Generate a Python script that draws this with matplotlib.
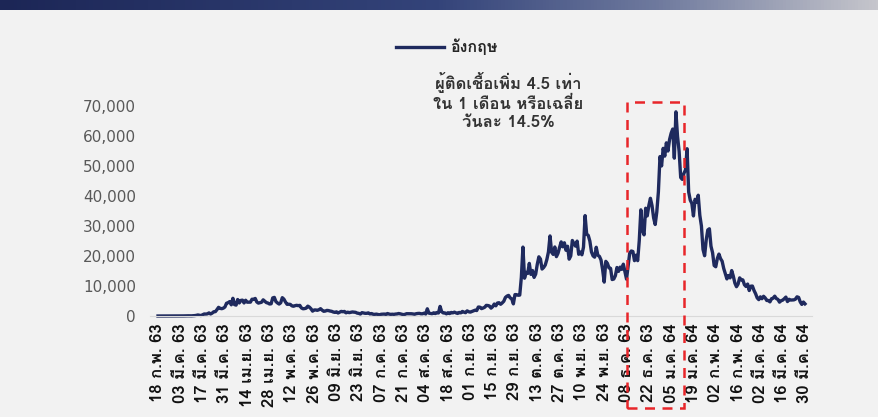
import matplotlib
matplotlib.use('Agg')
import matplotlib.pyplot as plt
import numpy as np
from matplotlib import font_manager
from matplotlib.colors import LinearSegmentedColormap
from matplotlib.patches import Rectangle

# daily new cases, UK, 18 Feb 2020 - 30 Mar 2021
feb20 = [0, 0, 0, 0, 0, 0, 0, 0, 2, 3, 2, 5]
mar20 = [12, 4, 11, 34, 30, 48, 43, 67, 48, 52, 83, 134, 208, 342, 251, 152, 407, 676, 643, 714,
         1035, 665, 967, 1427, 1452, 2129, 2885, 2546, 2433, 2619, 3009]
apr20 = [4244, 4450, 4805, 3735, 5903, 3802, 3634, 5491, 4344, 5195, 5288, 4342, 5252, 4603, 4617,
         4618, 5599, 5525, 5850, 4676, 4301, 4451, 4583, 5386, 4913, 4463, 4310, 3996, 4076, 6032]
may20 = [6201, 4806, 4339, 3985, 4406, 6111, 5614, 4649, 3896, 3923, 3877, 3403, 3242, 3446, 3560,
         3450, 3534, 2684, 2412, 2472, 2615, 3287, 2959, 2409, 1625, 2004, 2013, 1887, 2095, 2445, 1936]
jun20 = [1570, 1653, 1871, 1805, 1650, 1557, 1326, 1205, 1387, 1003, 1266, 1541, 1425, 1514, 1056,
         1279, 1115, 1218, 1346, 1295, 1221, 958, 874, 653, 1118, 1006, 890, 901, 1041, 689]
jul20 = [829, 576, 544, 624, 516, 352, 581, 630, 642, 512, 820, 650, 530, 598, 538, 642, 687, 827,
         726, 580, 445, 560, 769, 767, 743, 749, 685, 581, 763, 846, 880]
aug20 = [744, 742, 938, 670, 2400, 950, 871, 758, 1062, 816, 1148, 1009, 3200, 1441, 1012, 1040,
         713, 1089, 812, 1182, 1033, 1288, 1041, 853, 1184, 1048, 1522, 1276, 1108, 1715, 1406]
sep20 = [1295, 1508, 1735, 1940, 1813, 2988, 2948, 2460, 2659, 2919, 3539, 3497, 3330, 2621, 3105,
         3991, 3395, 4322, 4422, 3899, 4368, 4926, 6178, 6634, 6874, 6042, 5693, 4044, 7143, 7108]
oct20 = [6914, 6968, 12872, 22961, 12594, 14542, 14162, 17540, 13864, 15166, 12872, 13972, 17234,
         19724, 18980, 15650, 16171, 16982, 18804, 21331, 26688, 21242, 20530, 23012, 19790, 20890,
         22885, 24701, 23065, 24405, 21915]
nov20 = [23254, 18950, 20018, 25177, 24141, 23287, 24957, 20572, 21350, 20412, 22950, 33470, 27301,
         26860, 24962, 21363, 20051, 19609, 22915, 20252, 19875, 18662, 15450, 11299, 18213, 17555,
         16022, 15871, 12155, 12330]
dec20 = [13430, 16170, 14879, 16298, 15539, 17272, 14718, 12282, 16578, 20964, 21672, 21502, 18447,
         20263, 18450, 25161, 35383, 28507, 27052, 35928, 33364, 36804, 39237, 36804, 32725, 30501,
         34693, 41385, 53135, 50023, 55892]
jan21 = [53285, 57725, 54990, 58784, 60916, 62322, 52618, 68053, 59937, 54940, 46165, 45533, 47525,
         48682, 55761, 41346, 38598, 37535, 33355, 38905, 37892, 40261, 33552, 30004, 22195, 20089,
         25308, 28680, 29079, 23275, 21088]
feb21 = [16840, 16411, 19202, 20634, 19114, 18262, 15845, 14104, 12364, 13494, 12718, 15144, 13308,
         10972, 9765, 10625, 12718, 12057, 12027, 10406, 9834, 10641, 8489, 9938, 9985, 8523, 7434, 6035]
mar21 = [5455, 6385, 5766, 6573, 6040, 5177, 5177, 4712, 5766, 5926, 6609, 5824, 5534, 4618, 5089,
         5294, 5758, 6303, 4802, 5587, 5312, 5342, 5379, 5605, 6397, 6187, 4715, 3862, 4654, 4052]

cases = feb20 + mar20 + apr20 + may20 + jun20 + jul20 + aug20 + sep20 + oct20 + nov20 + dec20 + jan21 + feb21 + mar21
days = np.arange(len(cases))

tick_labels = ['18 ก.พ. 63', '03 มี.ค. 63', '17 มี.ค. 63', '31 มี.ค. 63', '14 เม.ย. 63', '28 เม.ย. 63',
               '12 พ.ค. 63', '26 พ.ค. 63', '09 มิ.ย. 63', '23 มิ.ย. 63', '07 ก.ค. 63', '21 ก.ค. 63',
               '04 ส.ค. 63', '18 ส.ค. 63', '01 ก.ย. 63', '15 ก.ย. 63', '29 ก.ย. 63', '13 ต.ค. 63',
               '27 ต.ค. 63', '10 พ.ย. 63', '24 พ.ย. 63', '08 ธ.ค. 63', '22 ธ.ค. 63', '05 ม.ค. 64',
               '19 ม.ค. 64', '02 ก.พ. 64', '16 ก.พ. 64', '02 มี.ค. 64', '16 มี.ค. 64', '30 มี.ค. 64']
yticks = [0, 10000, 20000, 30000, 40000, 50000, 60000, 70000]

names = set(f.name for f in font_manager.fontManager.ttflist)
thai = 'DejaVu Sans'
for c in ['Tahoma', 'Loma', 'IBM Plex Sans Thai Looped', 'Noto Sans Thai Looped', 'Noto Sans Thai']:
    if c in names:
        thai = c
        break
fam = [thai, 'DejaVu Sans']

W, H = 879, 417
fig = plt.figure(figsize=(W / 100, H / 100), dpi=100, facecolor='#f2f2f2')

# top banner
band = fig.add_axes([0, 1 - 10 / H, 1, 10 / H])
cmap = LinearSegmentedColormap.from_list('band', [(0, '#1c2656'), (0.5, '#34447a'), (0.75, '#6f7a9e'), (1, '#c6c6cc')])
band.imshow(np.linspace(0, 1, 256)[None, :], aspect='auto', cmap=cmap, extent=[0, 1, 0, 1])
band.axis('off')

ppd = 647 / 406
ax = fig.add_axes([150 / W, 1 - 316 / H, 662 / W, 210 / H])
ax.set_facecolor('#f2f2f2')
ax.plot(days, cases, color='#1f2a5e', lw=2.4, clip_on=False, label='อังกฤษ', solid_joinstyle='round')
ax.set_xlim(-8 / ppd, 406 + 7 / ppd)
ax.set_ylim(0, 70000)
ax.set_yticks(yticks)
ax.set_yticklabels([f'{v:,}' for v in yticks], fontsize=11, color='#595959', family='DejaVu Sans')
ax.set_xticks(days[::14])
ax.set_xticklabels(tick_labels, rotation=90, fontsize=12, fontweight='bold', family=fam, color='#111111')
ax.tick_params(length=0)
ax.tick_params(axis='y', pad=10)
ax.tick_params(axis='x', pad=5)
for s in ['top', 'right', 'left']:
    ax.spines[s].set_visible(False)
ax.spines['bottom'].set_color('#d9d9d9')

leg = ax.legend(loc='center', bbox_to_anchor=((447 - 150) / 662, (316 - 47) / 210), frameon=False, handlelength=3.0,
                handletextpad=0.4, prop={'family': fam, 'size': 11.5, 'weight': 'bold'})
for t in leg.get_texts():
    t.set_color('#262626')

fig.text(508 / W, 1 - 101 / H, 'ผู้ติดเชื้อเพิ่ม 4.5 เท่า\nใน 1 เดือน หรือเฉลี่ย\nวันละ 14.5%', ha='center', va='center',
         fontsize=12, fontweight='bold', family=fam, color='#333333', linespacing=1.2)

# red dashed box
rect = Rectangle((627 / W, 1 - 408 / H), 57 / W, 306 / H, transform=fig.transFigure, fill=False,
                 edgecolor='#e8262a', lw=1.8, linestyle=(0, (4, 3)))
fig.patches.append(rect)

fig.savefig('out.png', dpi=100, facecolor=fig.get_facecolor())
